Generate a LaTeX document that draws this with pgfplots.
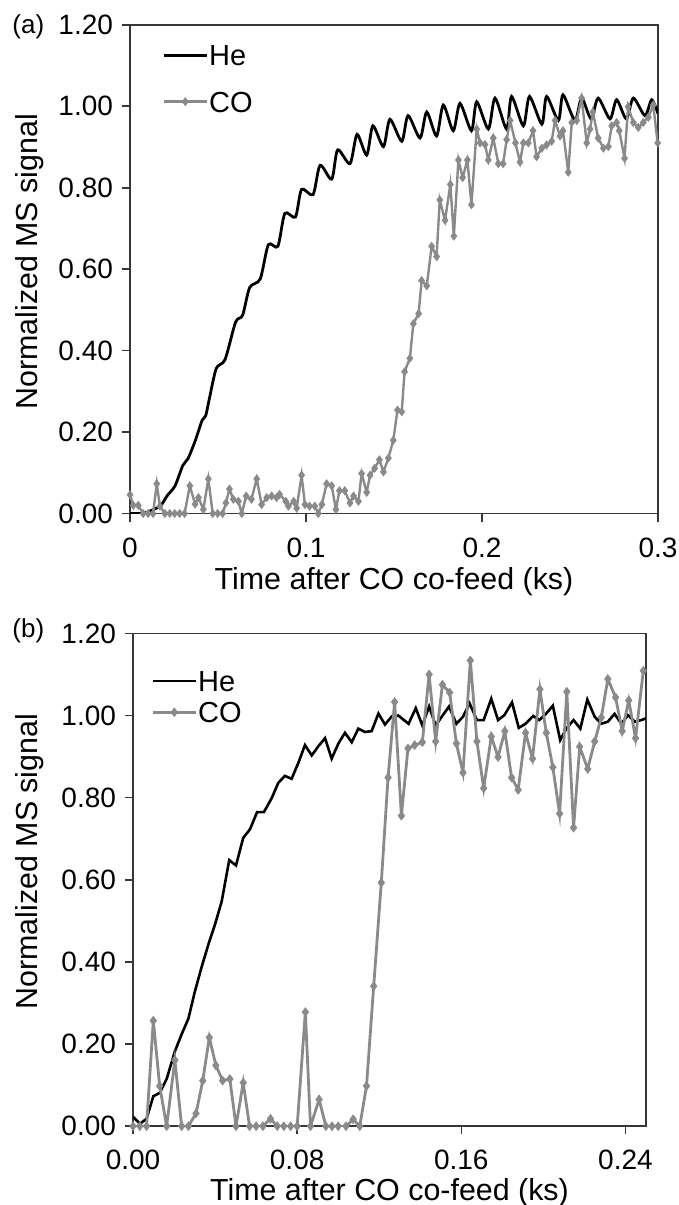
\documentclass[border=0pt]{standalone}
\usepackage{fontspec}
\setmainfont{Liberation Sans}
\usepackage{pgfplots}
\pgfplotsset{compat=1.18}

\definecolor{cogray}{RGB}{138,138,138}
\definecolor{axgray}{RGB}{55,55,55}

\pgfplotsset{
  myaxis/.style={
    scale only axis,
    axis line style={axgray, line width=0.9pt},
    tick style={axgray, line width=0.8pt},
    tick align=outside,
    major tick length=4pt,
    xtick pos=bottom, ytick pos=left,
    ymin=0, ymax=1.2,
    ytick={0,0.2,0.4,0.6,0.8,1.0,1.2},
    yticklabels={0.00,0.20,0.40,0.60,0.80,1.00,1.20},
    ticklabel style={font=\fontsize{14}{16}\selectfont, text=black},
    xticklabel style={yshift=-4.5pt},
    yticklabel style={xshift=-1pt},
    label style={font=\fontsize{15.2}{18}\selectfont},
    ylabel={Normalized MS signal},
    xlabel={Time after CO co-feed (ks)},
    legend cell align=left,
    legend image code/.code={
      \draw[mark repeat=2,mark phase=2,#1] plot coordinates {(0pt,0pt) (10.75pt,0pt) (21.5pt,0pt)};
    },
  },
  hestyle/.style={black, no markers},
  costyle/.style={cogray, mark=diamond*, mark size=1.3pt, mark options={solid, fill=cogray, draw=cogray}},
}

\begin{document}
\begin{tikzpicture}
\useasboundingbox (0pt,0pt) rectangle (339.5pt,-602.5pt);

\node[anchor=west, inner sep=0pt, font=\fontsize{13}{15}\selectfont] at (6pt,-13.35pt) {(a)};
\node[anchor=west, inner sep=0pt, font=\fontsize{13}{15}\selectfont] at (6pt,-315.5pt) {(b)};

% ---------------- panel (a)
\begin{axis}[myaxis,
  at={(65pt,-256.75pt)}, anchor=south west,
  width=264pt, height=244.35pt,
  xmin=0, xmax=0.3,
  xtick={0,0.1,0.2,0.3}, xticklabels={0,0.1,0.2,0.3},
  ylabel style={at={(axis description cs:-0.176,0.515)}, anchor=base},
  xlabel style={at={(axis description cs:0.5,-0.1545)}, anchor=base},
  legend style={at={(axis description cs:0.0606,0.9593)}, anchor=north west,
    draw=none, fill=none, inner sep=0pt, row sep=12.7pt,
    font=\fontsize{14.5}{17}\selectfont,
    nodes={inner sep=0pt, text height=10.4pt, text depth=0pt},
    /tikz/every odd column/.append style={column sep=0.5pt}},
]
\addplot[hestyle, line width=1.4pt, smooth, tension=0.45] coordinates {
(0,0) (0.008,0.001) (0.017,0.018) (0.021,0.043) (0.0256,0.068) (0.030,0.118) (0.033,0.135)
(0.037,0.178) (0.041,0.229) (0.043,0.240) (0.045,0.28) (0.049,0.356) (0.054,0.378)
(0.060,0.47) (0.064,0.487) (0.068,0.555) (0.074,0.576) (0.0786,0.66) (0.084,0.656)
(0.088,0.737) (0.094,0.728) (0.0975,0.796) (0.104,0.783) (0.108,0.855) (0.1146,0.821)
(0.118,0.893) (0.125,0.859) (0.129,0.931) (0.1345,0.880) (0.138,0.952) (0.144,0.901)
(0.1477,0.968) (0.1544,0.914) (0.158,0.977) (0.1648,0.922) (0.1686,0.986) (0.1742,0.927)
(0.178,1.003) (0.1837,0.94) (0.1875,1.007) (0.194,0.94) (0.197,1.011) (0.2036,0.944)
(0.2074,1.02) (0.214,0.944) (0.2168,1.024) (0.2235,0.952) (0.227,1.024) (0.234,0.956)
(0.2367,1.024) (0.2434,0.965) (0.246,1.028) (0.2528,0.965) (0.2566,1.02) (0.262,0.969)
(0.266,1.02) (0.2727,0.969) (0.2765,1.016) (0.282,0.969) (0.286,1.02) (0.2926,0.977)
(0.2964,1.016) (0.3,0.982)
};
\addlegendentry{He}
\addplot[costyle, line width=1.2pt] coordinates {
(0,0.046) (0.0019,0.02) (0.0047,0.02) (0.0075,0.0) (0.0103,0.0) (0.0131,0.0)
(0.0152,0.073) (0.017,0.018) (0.0198,0) (0.0226,0) (0.0254,0) (0.0282,0) (0.031,0)
(0.034,0.068) (0.037,0.023) (0.0389,0.039) (0.0417,0.01) (0.0445,0.085) (0.047,0)
(0.0498,0) (0.0526,0.0) (0.0545,0.026) (0.0565,0.06) (0.0587,0.035) (0.0616,0.03)
(0.0635,0) (0.066,0.043) (0.069,0.035) (0.072,0.085) (0.0748,0.022) (0.0777,0.039)
(0.0805,0.043) (0.0833,0.039) (0.085,0.047) (0.0885,0.03) (0.090,0.018) (0.093,0.03)
(0.0947,0.013) (0.0975,0.094) (0.0994,0.022) (0.102,0.018) (0.105,0.018) (0.107,0)
(0.109,0.022) (0.1117,0.073) (0.1146,0.068) (0.117,0.01) (0.119,0.056) (0.122,0.056)
(0.125,0.026) (0.127,0.043) (0.1298,0.03) (0.1316,0.098) (0.1345,0.052) (0.1364,0.094)
(0.139,0.111) (0.1417,0.132) (0.144,0.102) (0.1468,0.136) (0.1496,0.180) (0.152,0.254)
(0.1544,0.25) (0.156,0.348) (0.159,0.381) (0.161,0.466) (0.164,0.491) (0.1657,0.572)
(0.1686,0.559) (0.1714,0.656) (0.1742,0.631) (0.176,0.770) (0.179,0.72) (0.182,0.808)
(0.184,0.681) (0.1866,0.868) (0.189,0.825) (0.1917,0.868) (0.194,0.758) (0.197,0.944)
(0.1989,0.91) (0.2017,0.906) (0.2036,0.868) (0.2064,0.922) (0.2093,0.859) (0.212,0.859)
(0.214,0.918) (0.216,0.965) (0.219,0.91) (0.2216,0.863) (0.2235,0.91) (0.2263,0.91)
(0.229,0.94) (0.231,0.876) (0.234,0.897) (0.2367,0.905) (0.2396,0.914) (0.2415,0.965)
(0.2443,0.927) (0.246,0.94) (0.249,0.838) (0.251,0.96) (0.2538,0.965) (0.2566,1.02)
(0.2595,0.91) (0.2614,0.944) (0.263,0.986) (0.266,0.922) (0.269,0.897) (0.2718,0.901)
(0.2737,0.952) (0.2765,0.96) (0.278,0.94) (0.281,0.872) (0.283,0.999) (0.286,0.96)
(0.2888,0.948) (0.2916,0.96) (0.2945,0.973) (0.2973,1.003) (0.2998,0.91)
};
\addlegendentry{CO}
\end{axis}

% ---------------- panel (b)
\begin{axis}[myaxis,
  at={(66.5pt,-563.1pt)}, anchor=south west,
  width=256.5pt, height=246.4pt,
  xmin=0, xmax=0.25,
  xtick={0,0.08,0.16,0.24}, xticklabels={0.00,0.08,0.16,0.24},
  ylabel style={at={(axis description cs:-0.187,0.537)}, anchor=base},
  xlabel style={at={(axis description cs:0.5,-0.150)}, anchor=base},
  legend style={at={(axis description cs:0.0351,0.9256)}, anchor=north west,
    draw=none, fill=none, inner sep=0pt, row sep=5.3pt,
    font=\fontsize{14.5}{17}\selectfont,
    nodes={inner sep=0pt, text height=10.4pt, text depth=0pt},
    /tikz/every odd column/.append style={column sep=0.5pt}},
]
\addplot[hestyle, line width=1.3pt] coordinates {
(0,0.023) (0.0034,0.006) (0.0066,0.018) (0.0099,0.073) (0.013,0.081) (0.0164,0.115)
(0.0204,0.182) (0.0237,0.224) (0.027,0.262) (0.030,0.325) (0.0334,0.387) (0.0367,0.442)
(0.040,0.492) (0.0432,0.547) (0.0469,0.648) (0.0502,0.635) (0.0537,0.702) (0.057,0.723)
(0.0605,0.765) (0.0638,0.765) (0.0675,0.798) (0.0708,0.836) (0.074,0.853) (0.0773,0.846)
(0.0806,0.885) (0.0838,0.928) (0.0871,0.903) (0.0903,0.925) (0.0936,0.945) (0.0968,0.895)
(0.1001,0.932) (0.1033,0.958) (0.1066,0.935) (0.1098,0.968) (0.1131,0.960) (0.1163,0.962)
(0.1196,1.005) (0.1228,0.978) (0.1261,0.998) (0.1293,1.0) (0.1343,0.980)
(0.1378,1.018) (0.141,0.976) (0.1443,1.022) (0.1475,0.976) (0.151,1.001) (0.154,1.022)
(0.1576,0.980) (0.1608,0.997) (0.164,1.03) (0.1676,0.989) (0.1709,0.989) (0.1746,1.041)
(0.1779,0.989) (0.181,1.001) (0.1847,1.032) (0.188,0.970) (0.1913,0.980) (0.195,0.999)
(0.198,0.989) (0.2014,1.005) (0.2046,1.024) (0.2082,0.940) (0.2114,0.970) (0.2147,0.989)
(0.218,0.968) (0.2214,1.039) (0.225,0.997) (0.2282,0.980) (0.2314,0.985) (0.2347,1.004)
(0.238,0.980) (0.2412,1.001) (0.2445,0.985) (0.2477,0.989) (0.25,0.993)
};
\addlegendentry{He}
\addplot[costyle, line width=1.4pt] coordinates {
(0,0) (0.0033,0) (0.0066,0.0) (0.0099,0.257) (0.013,0.098) (0.0164,0) (0.0204,0.161)
(0.0237,0) (0.027,0) (0.0307,0.031) (0.034,0.111) (0.0372,0.216) (0.0404,0.148)
(0.0437,0.111) (0.0472,0.115) (0.0502,0) (0.0537,0.106) (0.0568,0) (0.060,0) (0.0633,0)
(0.067,0.018) (0.0703,0) (0.0735,0) (0.0768,0) (0.080,0) (0.084,0.278) (0.0865,0)
(0.0907,0.065) (0.094,0) (0.097,0) (0.100,0) (0.1038,0) (0.1073,0.017) (0.1105,0)
(0.1138,0.098) (0.1173,0.341) (0.121,0.593) (0.1243,0.849) (0.1275,1.033) (0.1308,0.756)
(0.134,0.92) (0.1373,0.928) (0.141,0.935) (0.1443,1.10) (0.1475,0.937) (0.1508,1.075)
(0.1543,1.056) (0.1576,0.932) (0.1608,0.861) (0.1644,1.134) (0.1676,0.937) (0.1709,0.823)
(0.1746,0.949) (0.1779,0.899) (0.1812,0.962) (0.1845,0.849) (0.1877,0.819) (0.1913,0.958)
(0.1947,0.895) (0.1983,1.064) (0.2014,0.958) (0.2046,0.874) (0.2079,0.761) (0.2114,1.058)
(0.2147,0.727) (0.2177,0.924) (0.2216,0.87) (0.225,0.937) (0.2282,0.995) (0.2314,1.089)
(0.2352,1.044) (0.2384,0.962) (0.2416,1.037) (0.2449,0.945) (0.2487,1.109)
};
\addlegendentry{CO}
\end{axis}
\end{tikzpicture}
\end{document}
